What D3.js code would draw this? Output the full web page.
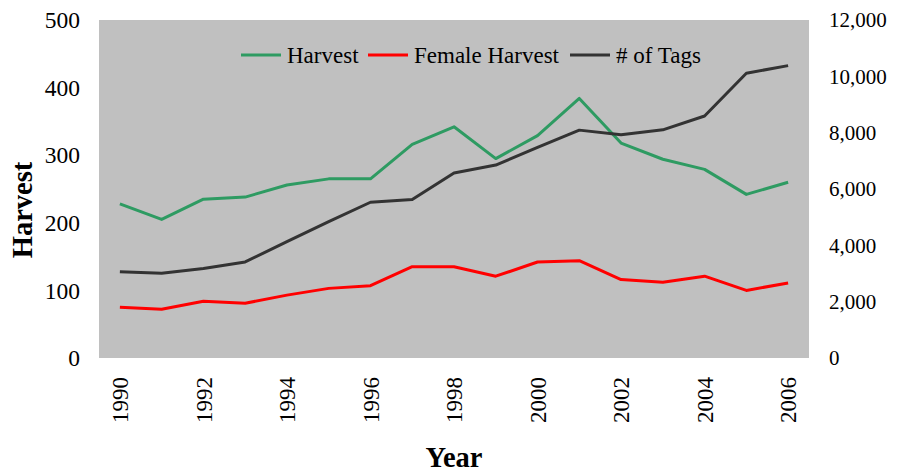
<!DOCTYPE html>
<html>
<head>
<meta charset="utf-8">
<script src="https://cdn.jsdelivr.net/npm/d3@7"></script>
<style>
  body { margin: 0; background: #fff; }
  svg text { font-family: "Liberation Serif", "Times New Roman", serif; fill: #000; }
  .domain { display: none; }
</style>
</head>
<body>
<div id="chart"></div>
<script>
const years = d3.range(1990, 2007)
const yearLabels = [1990, 1992, 1994, 1996, 1998, 2000, 2002, 2004, 2006]
const harvest = [228, 205, 235, 238, 256, 265, 265, 316, 342, 295, 329, 384, 318, 294, 279, 242, 260]
const femaleHarvest = [75, 72, 84, 81, 93, 103, 107, 135, 135, 121, 142, 144, 116, 112, 121, 100, 111]
const tags = [3060, 3010, 3180, 3410, 4130, 4840, 5530, 5630, 6570, 6850, 7480, 8090, 7930, 8100, 8590, 10110, 10380]
const leftTicks = [0, 100, 200, 300, 400, 500]
const rightTicks = [0, 2000, 4000, 6000, 8000, 10000, 12000]

const serif = '"Liberation Serif", "Times New Roman", serif'
const width = 898, height = 472
const plot = { left: 99, right: 809, top: 20, bottom: 358 }

const svg = d3.select('#chart')
.append('svg')
.attr('width', width)
.attr('height', height)

const x = d3.scalePoint()
.domain(years)
.range([plot.left, plot.right])
.padding(0.5)

const yLeft = d3.scaleLinear()
.domain([0, 500])
.range([plot.bottom, plot.top])

const yRight = d3.scaleLinear()
.domain([0, 12000])
.range([plot.bottom, plot.top])

// plot background
svg.append('rect')
.attr('x', plot.left)
.attr('y', plot.top)
.attr('width', plot.right - plot.left)
.attr('height', plot.bottom - plot.top)
.attr('fill', '#c0c0c0')

// left axis
const axL = svg.append('g')
.attr('transform', `translate(${plot.left - 19},0)`)
.call(d3.axisLeft(yLeft).tickValues(leftTicks).tickSize(0).tickPadding(0))
axL.attr('font-family', serif)
axL.selectAll('text').style('font-family', serif).style('font-size', '23.5px').attr('dy', '0.33em')

// right axis
const axR = svg.append('g')
.attr('transform', `translate(${plot.right + 20},0)`)
.call(d3.axisRight(yRight).tickValues(rightTicks).tickSize(0).tickPadding(0).tickFormat(d3.format(',')))
axR.attr('font-family', serif)
axR.selectAll('text').style('font-family', serif).style('font-size', '21px').attr('dy', '0.33em')

// bottom axis, rotated labels
const axB = svg.append('g')
.attr('transform', `translate(0,${plot.bottom + 19})`)
.call(d3.axisBottom(x).tickValues(yearLabels).tickSize(0).tickPadding(0))
axB.attr('font-family', serif)
axB.selectAll('text')
.style('font-family', serif)
.style('font-size', '23px')
.attr('text-anchor', 'end')
.attr('transform', 'rotate(-90)')
.attr('x', 0)
.attr('y', 0)
.attr('dy', '0.34em')

// axis titles
svg.append('text')
.attr('transform', `translate(${32},${(plot.top + plot.bottom) / 2 + 21}) rotate(-90)`)
.attr('text-anchor', 'middle')
.style('font-size', '28.5px')
.style('font-weight', 'bold')
.text('Harvest')

svg.append('text')
.attr('x', (plot.left + plot.right) / 2)
.attr('y', 467)
.attr('text-anchor', 'middle')
.style('font-size', '28.5px')
.style('font-weight', 'bold')
.text('Year')

const series = [
	{ name: 'Harvest', values: harvest, color: '#2e9b62', y: yLeft },
	{ name: 'Female Harvest', values: femaleHarvest, color: '#ff0000', y: yLeft },
	{ name: '# of Tags', values: tags, color: '#333333', y: yRight }
]

series.forEach(s => {
	const line = d3.line()
	.x((d, i) => x(years[i]))
	.y(d => s.y(d))

	svg.append('path')
	.datum(s.values)
	.attr('d', line)
	.attr('fill', 'none')
	.attr('stroke', s.color)
	.attr('stroke-width', 3)
	.attr('stroke-linejoin', 'round')
})

// legend
const legendX = [241, 368, 570]
const legend = svg.append('g')
series.forEach((s, i) => {
	legend.append('line')
	.attr('x1', legendX[i])
	.attr('x2', legendX[i] + 40)
	.attr('y1', 55)
	.attr('y2', 55)
	.attr('stroke', s.color)
	.attr('stroke-width', 3)

	legend.append('text')
	.attr('x', legendX[i] + 46)
	.attr('y', 63)
	.style('font-size', '23px')
	.text(s.name)
})
</script>
</body>
</html>
